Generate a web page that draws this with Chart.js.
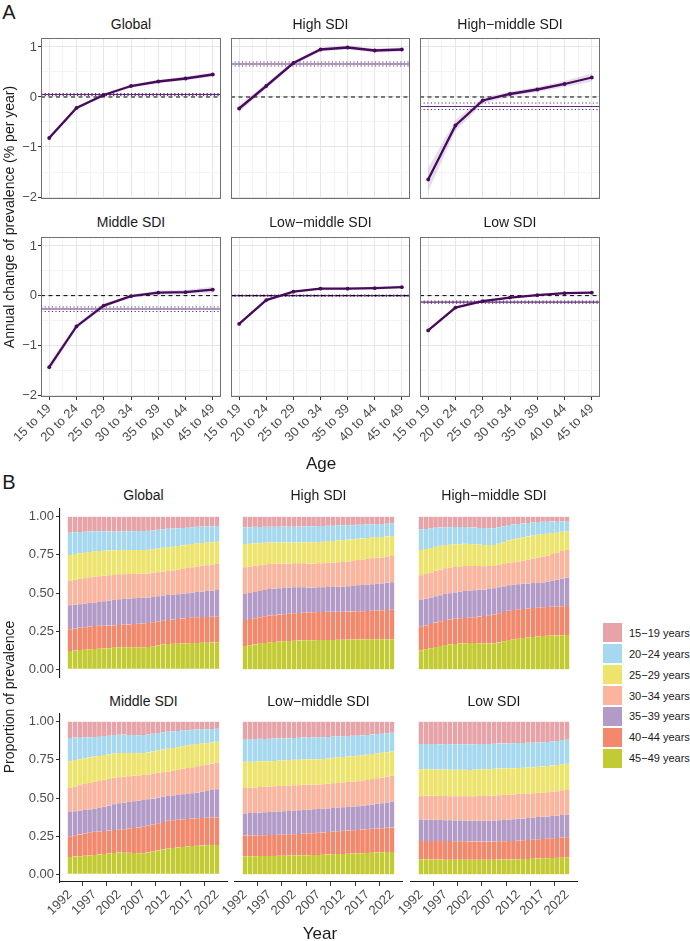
<!DOCTYPE html>
<html><head><meta charset="utf-8">
<script src="https://cdn.jsdelivr.net/npm/chart.js@4.4.1/dist/chart.umd.min.js"></script>
<style>
html,body{margin:0;padding:0;background:#fff;}
body{position:relative;width:690px;height:941px;overflow:hidden;font-family:"Liberation Sans",Arial,Helvetica,sans-serif;}
canvas{position:absolute;}
.t{position:absolute;white-space:nowrap;line-height:1;color:#1a1a1a;transform:translate(-50%,-50%);}
</style></head><body>
<script>
// ---------- shared labels ----------
const regionNames = ['Global','High SDI','High\u2212middle SDI','Middle SDI','Low\u2212middle SDI','Low SDI'];
const ageLabels = ['15 to 19','20 to 24','25 to 29','30 to 34','35 to 39','40 to 44','45 to 49'];
const ageSteps = [1,2,3,4,5,6,7];
const apcTicks = [-2,-1,0,1];
const years = [1992,1993,1994,1995,1996,1997,1998,1999,2000,2001,2002,2003,2004,2005,2006,2007,2008,2009,2010,2011,2012,2013,2014,2015,2016,2017,2018,2019,2020,2021,2022];
const yearTicks = [1992,1997,2002,2007,2012,2017,2022];
const propTicks = [0,0.25,0.5,0.75,1];
const legendLabels = ['15\u221219 years','20\u221224 years','25\u221229 years','30\u221234 years','35\u221239 years','40\u221244 years','45\u221249 years'];

// ---------- Panel A: annual change by age ----------
const globalApc     = [-0.82,-0.22,0.04,0.22,0.31,0.37,0.45];
const globalApcLow  = [-0.86,-0.25,0.01,0.19,0.28,0.33,0.41];
const globalApcHigh = [-0.78,-0.19,0.07,0.25,0.34,0.41,0.49];
const globalAapc    = [0.05,0.03,0.07];

const highApc     = [-0.23,0.22,0.68,0.95,0.99,0.93,0.95];
const highApcLow  = [-0.30,0.17,0.64,0.91,0.95,0.89,0.91];
const highApcHigh = [-0.16,0.27,0.72,0.99,1.03,0.97,0.99];
const highAapc    = [0.66,0.62,0.70];

const highMidApc     = [-1.65,-0.57,-0.07,0.06,0.15,0.26,0.39];
const highMidApcLow  = [-1.89,-0.68,-0.13,0.01,0.10,0.20,0.31];
const highMidApcHigh = [-1.42,-0.46,-0.01,0.11,0.20,0.32,0.47];
const highMidAapc    = [-0.19,-0.25,-0.12];

const midApc     = [-1.44,-0.62,-0.20,-0.01,0.06,0.07,0.12];
const midApcLow  = [-1.52,-0.67,-0.24,-0.04,0.02,0.03,0.06];
const midApcHigh = [-1.36,-0.57,-0.16,0.02,0.10,0.12,0.18];
const midAapc    = [-0.27,-0.32,-0.23];

const lowMidApc     = [-0.57,-0.09,0.08,0.14,0.14,0.15,0.17];
const lowMidApcLow  = [-0.59,-0.11,0.06,0.12,0.12,0.13,0.15];
const lowMidApcHigh = [-0.55,-0.07,0.10,0.16,0.16,0.17,0.19];
const lowMidAapc    = [0.00,-0.01,0.01];

const lowApc     = [-0.70,-0.24,-0.11,-0.04,0.01,0.05,0.06];
const lowApcLow  = [-0.72,-0.26,-0.13,-0.06,-0.01,0.03,0.04];
const lowApcHigh = [-0.68,-0.22,-0.09,-0.02,0.03,0.07,0.08];
const lowAapc    = [-0.13,-0.15,-0.11];

// ---------- Panel B: proportion of prevalence by age group ----------
const gl1519 = [.105,.102,.100,.099,.097,.096,.096,.096,.097,.098,.096,.096,.095,.095,.094,.094,.093,.090,.086,.082,.079,.078,.076,.075,.072,.070,.067,.065,.065,.064,.061];
const gl2024 = [.146,.143,.140,.137,.134,.131,.129,.127,.125,.123,.122,.122,.123,.123,.124,.124,.124,.123,.123,.122,.122,.119,.117,.114,.112,.109,.108,.107,.105,.104,.103];
const gl2529 = [.168,.168,.167,.167,.166,.166,.165,.164,.162,.161,.160,.159,.158,.157,.156,.155,.155,.155,.155,.155,.155,.155,.154,.154,.153,.153,.152,.150,.149,.147,.146];
const gl3034 = [.162,.164,.166,.167,.169,.170,.169,.167,.166,.164,.163,.162,.161,.160,.159,.158,.158,.158,.157,.157,.157,.159,.161,.162,.164,.166,.167,.168,.168,.169,.170];
const gl3539 = [.157,.156,.155,.154,.153,.153,.156,.160,.163,.166,.169,.169,.169,.168,.168,.168,.167,.166,.165,.165,.164,.163,.163,.162,.162,.161,.164,.167,.170,.172,.175];
const gl4044 = [.142,.144,.146,.148,.150,.151,.150,.149,.148,.147,.146,.148,.150,.153,.155,.157,.157,.157,.157,.157,.157,.159,.161,.164,.166,.169,.169,.169,.168,.168,.168];
const gl4549 = [.120,.123,.126,.128,.131,.133,.135,.137,.139,.141,.144,.144,.144,.144,.144,.144,.146,.151,.157,.162,.166,.167,.168,.169,.171,.172,.173,.174,.175,.176,.177];

const hi1519 = [.070,.069,.067,.068,.066,.066,.066,.066,.065,.066,.066,.065,.064,.064,.063,.061,.061,.059,.059,.057,.057,.056,.056,.053,.053,.052,.050,.048,.049,.046,.044];
const hi2024 = [.109,.108,.107,.106,.105,.104,.104,.104,.104,.104,.104,.104,.104,.105,.105,.105,.103,.101,.100,.098,.096,.094,.093,.091,.090,.088,.087,.086,.085,.084,.083];
const hi2529 = [.153,.150,.148,.145,.143,.140,.139,.138,.138,.137,.136,.137,.138,.138,.139,.140,.141,.142,.142,.143,.144,.143,.141,.140,.138,.137,.136,.135,.133,.132,.131];
const hi3034 = [.175,.173,.171,.168,.166,.164,.163,.161,.160,.158,.157,.157,.157,.157,.157,.157,.158,.159,.160,.161,.162,.163,.164,.166,.167,.168,.169,.170,.170,.171,.172];
const hi3539 = [.170,.171,.172,.172,.173,.174,.173,.172,.172,.171,.170,.168,.166,.164,.162,.161,.161,.162,.162,.163,.163,.165,.167,.169,.171,.173,.174,.175,.176,.178,.179];
const hi4044 = [.170,.171,.172,.173,.174,.175,.176,.177,.177,.178,.179,.180,.181,.182,.183,.184,.184,.184,.184,.184,.184,.184,.184,.185,.185,.185,.187,.189,.190,.192,.194];
const hi4549 = [.153,.158,.163,.168,.173,.177,.179,.182,.184,.186,.188,.189,.190,.190,.191,.192,.192,.193,.193,.194,.194,.195,.195,.196,.196,.197,.197,.197,.197,.197,.197];

const hm1519 = [.083,.081,.078,.073,.071,.070,.069,.068,.068,.068,.070,.071,.074,.075,.076,.076,.070,.063,.055,.051,.048,.045,.041,.038,.035,.033,.034,.032,.034,.031,.033];
const hm2024 = [.135,.131,.127,.124,.120,.116,.115,.113,.112,.110,.109,.109,.109,.110,.110,.110,.107,.104,.100,.097,.094,.091,.089,.086,.084,.081,.078,.075,.071,.068,.065];
const hm2529 = [.166,.163,.160,.158,.155,.152,.150,.149,.147,.146,.144,.143,.141,.140,.138,.137,.140,.143,.147,.150,.153,.152,.151,.150,.149,.148,.142,.137,.131,.126,.120];
const hm3034 = [.162,.163,.165,.166,.168,.169,.168,.166,.165,.163,.162,.159,.155,.152,.149,.146,.146,.147,.147,.148,.148,.152,.157,.161,.166,.170,.172,.175,.177,.180,.182];
const hm3539 = [.175,.174,.173,.172,.171,.170,.171,.173,.174,.176,.177,.176,.175,.173,.172,.171,.170,.168,.167,.165,.164,.164,.163,.163,.162,.162,.166,.171,.176,.181,.185];
const hm4044 = [.155,.157,.159,.161,.162,.164,.164,.165,.165,.166,.166,.170,.175,.180,.185,.190,.191,.191,.192,.192,.192,.191,.190,.190,.189,.188,.188,.189,.189,.190,.190];
const hm4549 = [.124,.131,.138,.146,.153,.159,.163,.166,.169,.171,.172,.172,.171,.170,.170,.170,.176,.184,.192,.197,.201,.205,.209,.212,.215,.218,.220,.221,.222,.224,.225];

const mi1519 = [.107,.104,.105,.102,.102,.101,.099,.094,.092,.087,.086,.085,.087,.087,.089,.088,.085,.079,.074,.070,.066,.063,.062,.057,.056,.053,.051,.049,.050,.048,.046];
const mi2024 = [.152,.147,.142,.138,.133,.128,.126,.125,.123,.122,.120,.120,.119,.119,.118,.118,.117,.116,.114,.113,.112,.109,.106,.104,.101,.098,.096,.093,.091,.088,.086];
const mi2529 = [.175,.173,.170,.168,.166,.164,.163,.162,.160,.159,.158,.155,.152,.149,.146,.143,.144,.145,.147,.148,.149,.149,.148,.148,.147,.147,.145,.143,.140,.138,.136];
const mi3034 = [.158,.163,.167,.171,.175,.178,.177,.176,.174,.173,.171,.170,.168,.167,.165,.164,.163,.163,.162,.161,.160,.162,.164,.167,.169,.171,.172,.173,.173,.174,.175];
const mi3539 = [.158,.157,.155,.153,.151,.150,.154,.159,.164,.169,.173,.174,.174,.175,.175,.176,.173,.170,.168,.165,.162,.163,.163,.164,.164,.165,.169,.173,.176,.180,.184];
const mi4044 = [.136,.139,.142,.146,.149,.152,.151,.151,.150,.150,.149,.154,.159,.163,.168,.173,.175,.177,.178,.180,.182,.182,.181,.181,.180,.180,.180,.180,.180,.180,.180];
const mi4549 = [.114,.117,.119,.122,.124,.127,.130,.133,.137,.140,.143,.142,.141,.140,.139,.138,.143,.150,.157,.163,.169,.172,.176,.179,.183,.186,.187,.189,.190,.192,.193];

const lm1519 = [.114,.113,.114,.112,.113,.112,.111,.110,.110,.108,.107,.106,.104,.105,.104,.103,.102,.101,.098,.097,.096,.094,.093,.092,.090,.088,.084,.081,.079,.076,.072];
const lm2024 = [.149,.149,.148,.148,.147,.147,.146,.145,.144,.144,.143,.143,.143,.143,.143,.143,.142,.140,.139,.137,.136,.135,.133,.132,.130,.129,.128,.127,.125,.124,.123];
const lm2529 = [.171,.170,.169,.168,.167,.166,.166,.166,.167,.167,.167,.167,.167,.166,.166,.166,.166,.166,.167,.167,.167,.167,.166,.166,.165,.165,.164,.163,.162,.161,.160];
const lm3034 = [.167,.167,.167,.167,.167,.167,.167,.167,.166,.166,.166,.165,.164,.163,.161,.160,.160,.161,.161,.162,.162,.163,.164,.164,.165,.166,.167,.167,.168,.168,.169];
const lm3539 = [.145,.146,.147,.149,.150,.151,.152,.152,.153,.153,.154,.154,.155,.155,.156,.156,.156,.155,.155,.154,.154,.154,.155,.155,.156,.156,.159,.161,.164,.166,.169];
const lm4044 = [.136,.136,.136,.136,.136,.136,.137,.138,.138,.139,.140,.141,.142,.143,.144,.145,.146,.147,.149,.150,.151,.152,.153,.154,.155,.156,.157,.158,.158,.159,.160];
const lm4549 = [.118,.119,.119,.120,.120,.121,.121,.122,.122,.123,.123,.124,.125,.125,.126,.127,.128,.130,.131,.133,.134,.135,.136,.137,.139,.140,.141,.143,.144,.146,.147];

const lo1519 = [.147,.146,.147,.147,.148,.147,.148,.148,.148,.148,.149,.148,.147,.147,.146,.145,.143,.143,.142,.142,.140,.140,.139,.138,.136,.136,.133,.129,.126,.121,.118];
const lo2024 = [.164,.165,.165,.166,.166,.167,.167,.167,.167,.167,.167,.166,.166,.165,.165,.164,.164,.164,.163,.163,.163,.162,.161,.160,.159,.158,.158,.158,.158,.158,.158];
const lo2529 = [.174,.174,.174,.173,.173,.173,.173,.173,.173,.173,.173,.174,.174,.175,.175,.176,.175,.174,.173,.172,.171,.171,.171,.171,.171,.171,.171,.171,.171,.171,.171];
const lo3034 = [.155,.156,.156,.157,.157,.158,.158,.159,.159,.160,.160,.161,.162,.162,.163,.164,.164,.163,.163,.162,.162,.161,.160,.160,.159,.158,.159,.160,.161,.162,.163];
const lo3539 = [.141,.140,.139,.138,.137,.136,.136,.136,.136,.136,.136,.136,.136,.136,.136,.136,.137,.139,.140,.142,.143,.143,.144,.144,.145,.145,.145,.146,.146,.147,.147];
const lo4044 = [.120,.121,.121,.122,.122,.123,.122,.121,.121,.120,.119,.119,.119,.119,.119,.119,.120,.120,.121,.121,.122,.123,.124,.125,.126,.127,.128,.129,.130,.132,.133];
const lo4549 = [.099,.098,.098,.097,.097,.096,.096,.096,.096,.096,.096,.096,.096,.096,.096,.096,.097,.097,.098,.098,.099,.100,.101,.102,.104,.105,.106,.107,.108,.109,.110];

// ---------- styling / layout ----------
const FONT = '"Liberation Sans", Arial, Helvetica, sans-serif';
Chart.defaults.font.family = FONT;
const ageColors = ['#E6A3A8','#A6D8EF','#EDE46E','#FBB59E','#B39BC8','#F4886C','#C3CB34']; // 15-19 ... 45-49
const PURPLE = '#470B5B', HLINE = '#5E2C76', RIBBON = 'rgba(110,60,140,0.17)';
const TICK_TXT = '#4d4d4d';

const A_COLS = [[41,221],[231,410],[420,600]];
const A_ROWS = [[38,199],[237,397]];
const A_STRIP_Y = [24,222];
const B_COLS = [[60,227],[235,402],[411,577]];
const B_ROWS = [[509,677],[714,882]];
const B_STRIP_Y = [495,701];
const X_MIN_A = 0.7, X_MAX_A = 7.3, Y_MIN_A = -2.04, Y_MAX_A = 1.18;
const X_MIN_B = 1989.95, X_MAX_B = 2024.05, Y_MIN_B = -0.05, Y_MAX_B = 1.05;

function addText(txt, cx, cy, size, extra) {
  const d = document.createElement('div');
  d.className = 't';
  d.textContent = txt;
  d.style.left = cx + 'px';
  d.style.top = cy + 'px';
  d.style.fontSize = size + 'px';
  if (extra) Object.assign(d.style, extra);
  document.body.appendChild(d);
  return d;
}
function makeCanvas(left, top, w, h) {
  const c = document.createElement('canvas');
  c.width = w; c.height = h;
  c.style.left = left + 'px'; c.style.top = top + 'px';
  c.style.width = w + 'px'; c.style.height = h + 'px';
  document.body.appendChild(c);
  return c;
}
const isMaj = v => Math.abs(v - Math.round(v)) < 1e-6;
const fmtSigned = v => v < 0 ? '\u2212' + Math.abs(v) : String(v);
const withMinor = arr => arr.flatMap((v, i) => i < arr.length - 1 ? [v, (v + arr[i + 1]) / 2] : [v]);

const frame = {
  id: 'frame',
  afterDraw(chart) {
    const {ctx, chartArea: a} = chart;
    ctx.save();
    ctx.strokeStyle = '#707070';
    ctx.lineWidth = 1;
    ctx.strokeRect(a.left + 0.5, a.top + 0.5, a.width - 1, a.height - 1);
    ctx.restore();
  }
};

const apcSets = [
  {apc: globalApc, lo: globalApcLow, hi: globalApcHigh, aapc: globalAapc},
  {apc: highApc, lo: highApcLow, hi: highApcHigh, aapc: highAapc},
  {apc: highMidApc, lo: highMidApcLow, hi: highMidApcHigh, aapc: highMidAapc},
  {apc: midApc, lo: midApcLow, hi: midApcHigh, aapc: midAapc},
  {apc: lowMidApc, lo: lowMidApcLow, hi: lowMidApcHigh, aapc: lowMidAapc},
  {apc: lowApc, lo: lowApcLow, hi: lowApcHigh, aapc: lowAapc}
];

function apcPanel(s, idx) {
  const col = idx % 3, row = Math.floor(idx / 3);
  const boxL = A_COLS[col][0], boxW = A_COLS[col][1] - boxL;
  const boxT = A_ROWS[row][0], boxH = A_ROWS[row][1] - boxT;
  const yW = col === 0 ? 22 : 0;
  const xH = row === 1 ? 64 : 0;
  const padL = col === 0 ? 10 : 42, padR = 2, padT = 2, padB = row === 1 ? 0 : 8;
  const c = makeCanvas(boxL - yW - padL, boxT - padT, boxW + yW + padL + padR, boxH + padT + xH + padB);
  const pts = arr => arr.map((v, i) => ({x: ageSteps[i], y: v}));
  const hl = v => [{x: X_MIN_A, y: v}, {x: X_MAX_A, y: v}];
  const base = {pointRadius: 0, pointHoverRadius: 0, fill: false, tension: 0};
  const gridColor = ctx => (ctx.tick && isMaj(ctx.tick.value)) ? '#E6E6E6' : '#F3F3F3';
  const tickColor = ctx => (ctx.tick && isMaj(ctx.tick.value)) ? '#333333' : 'rgba(0,0,0,0)';
  new Chart(c, {
    type: 'line',
    data: {datasets: [
      {...base, data: pts(s.apc), borderColor: PURPLE, borderWidth: 2.3, pointRadius: 1.9, pointBackgroundColor: PURPLE, pointBorderWidth: 0, order: 0},
      {...base, data: hl(0), borderColor: '#000', borderWidth: 1, borderDash: [4, 3.5], order: 1},
      {...base, data: hl(s.aapc[0]), borderColor: HLINE, borderWidth: 1.1, order: 2},
      {...base, data: hl(s.aapc[1]), borderColor: HLINE, borderWidth: 1.1, borderDash: [1.2, 2.4], order: 3},
      {...base, data: hl(s.aapc[2]), borderColor: HLINE, borderWidth: 1.1, borderDash: [1.2, 2.4], order: 4},
      {...base, data: pts(s.lo), borderWidth: 0, borderColor: 'rgba(0,0,0,0)', order: 5},
      {...base, data: pts(s.hi), borderWidth: 0, borderColor: 'rgba(0,0,0,0)', backgroundColor: RIBBON, fill: '-1', order: 6}
    ]},
    options: {
      responsive: false, animation: false, events: [],
      layout: {padding: {left: padL, right: padR, top: padT, bottom: padB}},
      plugins: {legend: {display: false}, tooltip: {enabled: false}},
      scales: {
        x: {
          type: 'linear', min: X_MIN_A, max: X_MAX_A, offset: false,
          afterBuildTicks: sc => { sc.ticks = withMinor(ageSteps).map(v => ({value: v})); },
          afterFit: sc => { sc.height = xH; sc.paddingLeft = 0; sc.paddingRight = 0; sc.paddingTop = 0; sc.paddingBottom = 0; },
          border: {display: false},
          grid: {color: gridColor, lineWidth: 1, tickColor: tickColor, tickLength: 3, tickWidth: 1, drawTicks: row === 1},
          ticks: {display: row === 1, autoSkip: false, minRotation: 45, maxRotation: 45, padding: 1, color: TICK_TXT,
                  font: {size: 13}, callback: v => isMaj(v) ? ageLabels[Math.round(v) - 1] : ''}
        },
        y: {
          type: 'linear', min: Y_MIN_A, max: Y_MAX_A,
          afterBuildTicks: sc => { sc.ticks = withMinor(apcTicks).map(v => ({value: v})); },
          afterFit: sc => { sc.width = yW; sc.paddingLeft = 0; sc.paddingRight = 0; sc.paddingTop = 0; sc.paddingBottom = 0; },
          border: {display: false},
          grid: {color: gridColor, lineWidth: 1, tickColor: tickColor, tickLength: 3, tickWidth: 1, drawTicks: col === 0},
          ticks: {display: col === 0, autoSkip: false, padding: 1, color: TICK_TXT, font: {size: 13},
                  callback: v => isMaj(v) ? fmtSigned(Math.round(v)) : ''}
        }
      }
    },
    plugins: [frame]
  });
  addText(regionNames[idx], boxL + boxW / 2, A_STRIP_Y[row], 14);
}

const propSets = [
  [gl1519, gl2024, gl2529, gl3034, gl3539, gl4044, gl4549],
  [hi1519, hi2024, hi2529, hi3034, hi3539, hi4044, hi4549],
  [hm1519, hm2024, hm2529, hm3034, hm3539, hm4044, hm4549],
  [mi1519, mi2024, mi2529, mi3034, mi3539, mi4044, mi4549],
  [lm1519, lm2024, lm2529, lm3034, lm3539, lm4044, lm4549],
  [lo1519, lo2024, lo2529, lo3034, lo3539, lo4044, lo4549]
];

function propPanel(series, idx) {
  const col = idx % 3, row = Math.floor(idx / 3);
  const boxL = B_COLS[col][0], boxW = B_COLS[col][1] - boxL;
  const boxT = B_ROWS[row][0], boxH = B_ROWS[row][1] - boxT;
  const yW = col === 0 ? 40 : 0;
  const xH = row === 1 ? 48 : 0;
  const padL = col === 0 ? 0 : 32, padR = 2, padT = 4, padB = row === 1 ? 2 : 6;
  const c = makeCanvas(boxL - yW - padL, boxT - padT, boxW + yW + padL + padR, boxH + padT + xH + padB);
  const datasets = [];
  for (let i = series.length - 1; i >= 0; i--) {
    datasets.push({
      data: series[i].map((v, j) => ({x: years[j], y: v})),
      backgroundColor: ageColors[i],
      borderColor: 'rgba(255,255,255,0.8)',
      borderWidth: {left: 0.5, right: 0.5, top: 0, bottom: 0},
      borderSkipped: false,
      barPercentage: 1, categoryPercentage: 1
    });
  }
  new Chart(c, {
    type: 'bar',
    data: {datasets},
    options: {
      responsive: false, animation: false, events: [],
      layout: {padding: {left: padL, right: padR, top: padT, bottom: padB}},
      plugins: {legend: {display: false}, tooltip: {enabled: false}},
      scales: {
        x: {
          type: 'linear', min: X_MIN_B, max: X_MAX_B, offset: false, stacked: true, display: row === 1,
          afterBuildTicks: sc => { sc.ticks = yearTicks.map(v => ({value: v})); },
          afterFit: sc => { sc.height = xH; sc.paddingLeft = 0; sc.paddingRight = 0; sc.paddingTop = 0; sc.paddingBottom = 0; },
          border: {display: true, color: '#1a1a1a', width: 1.1},
          grid: {drawOnChartArea: false, drawTicks: true, tickLength: 4, color: '#333333', tickWidth: 1},
          ticks: {autoSkip: false, minRotation: 45, maxRotation: 45, padding: 1, color: TICK_TXT, font: {size: 13},
                  callback: v => String(v)}
        },
        y: {
          type: 'linear', min: Y_MIN_B, max: Y_MAX_B, stacked: true, display: col === 0,
          afterBuildTicks: sc => { sc.ticks = propTicks.map(v => ({value: v})); },
          afterFit: sc => { sc.width = yW; sc.paddingLeft = 0; sc.paddingRight = 0; sc.paddingTop = 0; sc.paddingBottom = 0; },
          border: {display: true, color: '#1a1a1a', width: 1.1},
          grid: {drawOnChartArea: false, drawTicks: true, tickLength: 4, color: '#333333', tickWidth: 1},
          ticks: {autoSkip: false, padding: 2, color: TICK_TXT, font: {size: 13}, callback: v => v.toFixed(2)}
        }
      }
    }
  });
  addText(regionNames[idx], boxL + boxW / 2, B_STRIP_Y[row], 14);
}

apcSets.forEach(apcPanel);
propSets.forEach(propPanel);

// titles
addText('A', 9, 12, 20);
addText('B', 9, 482, 20);
addText('Annual change of prevalence (% per year)', 9, 217, 14, {transform: 'translate(-50%,-50%) rotate(-90deg)'});
addText('Age', 321, 463, 17);
addText('Proportion of prevalence', 9, 697, 14, {transform: 'translate(-50%,-50%) rotate(-90deg)'});
addText('Year', 320, 933, 17);

// legend
legendLabels.forEach((lab, i) => {
  const cy = 632.8 + i * 20.9;
  const k = document.createElement('div');
  Object.assign(k.style, {position: 'absolute', left: '603px', top: (cy - 9.5) + 'px', width: '19px', height: '19px', background: ageColors[i]});
  document.body.appendChild(k);
  addText(lab, 629, cy, 11, {transform: 'translate(0,-50%)'});
});
</script>
</body></html>
